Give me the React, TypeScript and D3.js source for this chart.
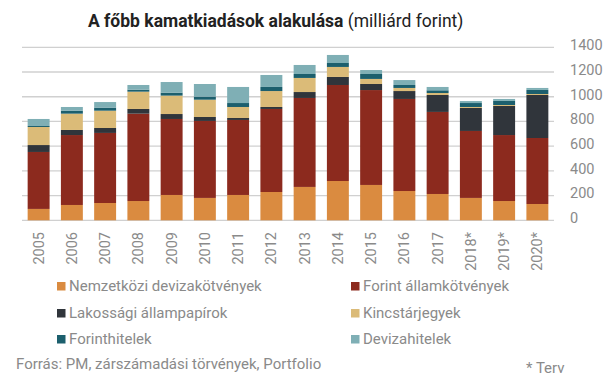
import React from "react";
import * as d3 from "d3";

const years = ["2005","2006","2007","2008","2009","2010","2011","2012","2013","2014","2015","2016","2017","2018*","2019*","2020*"];
const nemzetkozi = [92,124,140,156,205,181,205,229,270,318,286,237,213,181,156,132];
const forintAllam = [461,566,567,707,615,623,607,672,720,777,768,745,664,542,534,534];
const lakossagi = [56,41,40,38,40,32,16,16,48,65,49,64,137,186,235,348];
const kincstar = [146,132,140,140,149,140,89,129,114,81,41,25,16,8,8,8];
const forinthitel = [8,24,25,16,24,25,32,33,32,32,40,24,22,32,33,33];
const devizahitel = [57,30,45,38,86,102,130,97,73,65,32,40,27,16,16,16];

const seriesNames = ["Nemzetközi devizakötvények","Forint államkötvények","Lakossági állampapírok","Kincstárjegyek","Forinthitelek","Devizahitelek"];
const seriesColors = ["#DA8B40","#8C2A1E","#30353B","#DBBB78","#1C5F6D","#7FAFB5"];
const yTicks = [0,200,400,600,800,1000,1200,1400];

export default function App() {
  const W = 605, H = 378;
  const seriesData = [nemzetkozi, forintAllam, lakossagi, kincstar, forinthitel, devizahitel];
  const rows = years.map((y, i) => {
    const r: any = { year: y };
    seriesNames.forEach((n, k) => (r[n] = seriesData[k][i]));
    return r;
  });
  const stack = d3.stack<any>().keys(seriesNames)(rows);
  const x = d3.scaleBand<string>().domain(years).range([22, 554]).paddingInner(0.34).paddingOuter(0.17);
  const y = d3.scaleLinear().domain([0, 1400]).range([220.3, 47.3]);
  const font = "Roboto, 'Noto Sans', sans-serif";
  const gray = "#8a8a8a";

  const legendPos = [
    [57, 286], [351, 286],
    [57, 313], [351, 313],
    [57, 339], [351, 339],
  ];

  return (
    <svg width={W} height={H} style={{ position: "absolute", left: 0, top: 0, background: "#fff" }} fontFamily={font}>
      <text x={88} y={27} fontSize={17.5} fill="#222">
        <tspan fontWeight="bold">A főbb kamatkiadások alakulása</tspan>
        <tspan> (milliárd forint)</tspan>
      </text>
      {yTicks.map((t) => (
        <g key={t}>
          <line x1={22} x2={554} y1={y(t)} y2={y(t)} stroke="#d0d0d0" strokeWidth={1.3} />
          <text x={570} y={y(t)} dy="0.2em" fontSize={14.5} fill={gray}>{t}</text>
        </g>
      ))}
      {stack.map((s, k) => (
        <g key={k} fill={seriesColors[k]}>
          {s.map((d: any, i: number) => (
            <rect key={i} x={x(years[i])} width={x.bandwidth()} y={y(d[1])} height={y(d[0]) - y(d[1])} />
          ))}
        </g>
      ))}
      {years.map((yr) => {
        const cx = (x(yr) as number) + x.bandwidth() / 2;
        return (
          <text key={yr} transform={`translate(${cx},232) rotate(-90)`} textAnchor="end" dy="0.35em" fontSize={14.5} fill={gray}>{yr}</text>
        );
      })}
      {seriesNames.map((n, k) => (
        <g key={n} transform={`translate(${legendPos[k][0]},${legendPos[k][1]})`}>
          <rect x={0} y={-4} width={8.5} height={8.5} fill={seriesColors[k]} />
          <text x={12} y={0} dy="0.35em" fontSize={15} fill={gray}>{n}</text>
        </g>
      ))}
      <text x={16} y={364} dy="0.35em" fontSize={15} fill={gray}>Forrás: PM, zárszámadási törvények, Portfolio</text>
      <text x={526} y={368} dy="0.35em" fontSize={15} fill={gray}>* Terv</text>
    </svg>
  );
}
